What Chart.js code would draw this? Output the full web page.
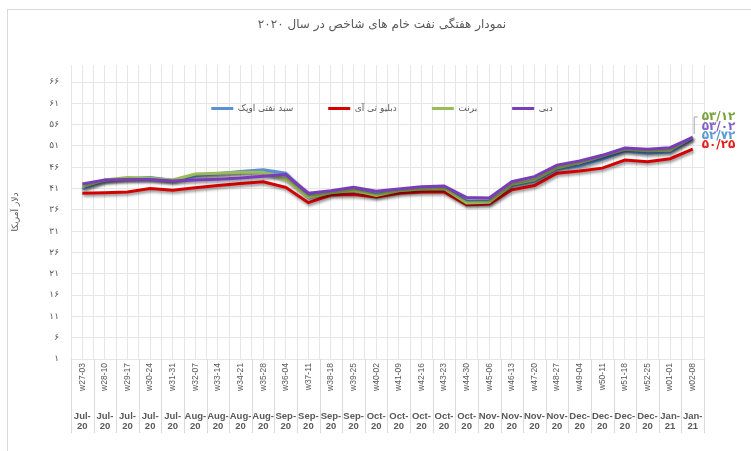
<!DOCTYPE html>
<html>
<head>
<meta charset="utf-8">
<script src="https://cdn.jsdelivr.net/npm/chart.js@4.4.1/dist/chart.umd.min.js"></script>
<style>
  html, body { margin: 0; padding: 0; background: #fff; }
  #wrap { width: 751px; height: 451px; }
</style>
</head>
<body>
<div id="wrap"><canvas id="oilChart" width="751" height="451"></canvas></div>
<script>
// داده ها
var weekLabels = ['w27-03', 'w28-10', 'w29-17', 'w30-24', 'w31-31', 'w32-07', 'w33-14', 'w34-21', 'w35-28',
    'w36-04', 'w37-11', 'w38-18', 'w39-25', 'w40-02', 'w41-09', 'w42-16', 'w43-23', 'w44-30',
    'w45-06', 'w46-13', 'w47-20', 'w48-27', 'w49-04', 'w50-11', 'w51-18', 'w52-25', 'w01-01', 'w02-08'];
var monthLabels = ['Jul-20', 'Jul-20', 'Jul-20', 'Jul-20', 'Jul-20', 'Aug-20', 'Aug-20', 'Aug-20', 'Aug-20',
    'Sep-20', 'Sep-20', 'Sep-20', 'Sep-20', 'Oct-20', 'Oct-20', 'Oct-20', 'Oct-20', 'Oct-20',
    'Nov-20', 'Nov-20', 'Nov-20', 'Nov-20', 'Dec-20', 'Dec-20', 'Dec-20', 'Dec-20', 'Jan-21', 'Jan-21'];
var yTicks = [1, 6, 11, 16, 21, 26, 31, 36, 41, 46, 51, 56, 61, 66];
var seriesNames = ['سبد نفتی اوپک', 'دبلیو تی آی', 'برنت', 'دبی'];

var opecValues = [40.9, 42.9, 43.3, 43.6, 42.9, 44.0, 44.5, 45.0, 45.4, 44.6, 39.3, 40.1, 40.8, 39.7,
    40.6, 41.0, 41.2, 38.0, 38.0, 41.7, 42.7, 45.6, 46.3, 47.9, 49.8, 49.3, 49.6, 52.72];
var wtiValues = [39.9, 40.0, 40.2, 41.0, 40.6, 41.2, 41.7, 42.2, 42.6, 41.3, 37.7, 39.5, 39.6, 39.0,
    39.9, 40.2, 40.2, 37.2, 37.4, 40.7, 41.7, 44.6, 45.1, 45.8, 47.7, 47.3, 48.0, 50.25];
var brentValues = [41.5, 43.0, 43.6, 43.4, 43.0, 44.4, 44.6, 44.8, 44.8, 43.2, 39.0, 40.0, 40.6, 39.4,
    40.5, 40.9, 41.0, 37.6, 37.8, 42.0, 43.1, 45.9, 47.1, 48.7, 50.2, 49.9, 50.0, 53.12];
var dubaiValues = [42.1, 43.0, 43.1, 43.1, 42.8, 43.0, 43.2, 43.5, 43.9, 44.3, 39.9, 40.5, 41.3, 40.4,
    40.9, 41.4, 41.6, 38.9, 38.8, 42.6, 43.8, 46.5, 47.5, 48.8, 50.5, 50.2, 50.6, 53.02];

var lineColors = ['#5b8fd6', '#d40000', '#9bbb59', '#7a3db8'];
var labelColors = ['#5b9bd5', '#e0201a', '#76a33a', '#8462c4'];
var textColor = '#595959';
var gridColor = '#e6e6e6';
var faFont = 'DejaVu Sans';

// تبدیل ارقام به فارسی
function toFa(v) {
    return String(v).replace(/[0-9]/g, function (d) { return '۰۱۲۳۴۵۶۷۸۹'[d]; });
}

function makeSet(label, values, color, order) {
    return {
        label: label,
        data: values,
        borderColor: color,
        backgroundColor: color,
        borderWidth: 3,
        pointRadius: 0,
        pointHoverRadius: 0,
        tension: 0,
        order: order
    };
}

// سایه زیر خطوط
var shadowPlugin = {
    id: 'lineShadow',
    beforeDatasetDraw: function (chart) {
        var c = chart.ctx;
        c.save();
        c.shadowColor = 'rgba(0,0,0,0.45)';
        c.shadowBlur = 3;
        c.shadowOffsetX = 1;
        c.shadowOffsetY = 2;
    },
    afterDatasetDraw: function (chart) {
        chart.ctx.restore();
    }
};

// قاب، عنوان و راهنما داخل ناحیه نمودار
var framePlugin = {
    id: 'frame',
    beforeInit: function (chart) {
        var fit = chart.legend.fit;
        chart.legend.fit = function () {
            fit.call(this);
            this.height = 0;
        };
    },
    afterLayout: function (chart) {
        var lg = chart.legend;
        lg.left += 26;
        lg.right += 26;
        lg.bottom = lg.top + 60;
        lg.height = 60;
    },
    beforeDraw: function (chart) {
        var c = chart.ctx;
        c.save();
        c.fillStyle = '#fff';
        c.fillRect(0, 0, chart.width, chart.height);
        c.strokeStyle = '#d9d9d9';
        c.lineWidth = 1;
        c.strokeRect(7.5, 9.5, chart.width + 10, chart.height + 10);
        c.fillStyle = textColor;
        c.font = '12px "' + faFont + '"';
        c.textAlign = 'center';
        c.textBaseline = 'middle';
        c.fillText('نمودار هفتگی نفت خام های شاخص در سال ۲۰۲۰', 382, 25);
        c.restore();
    },
    afterDraw: function (chart) {
        // خطوط جداکننده برچسب های محور افقی
        var c = chart.ctx, xs = chart.scales.x, x2 = chart.scales.x2;
        var step = xs.getPixelForValue(1) - xs.getPixelForValue(0);
        c.save();
        c.strokeStyle = '#dadada';
        c.lineWidth = 1;
        c.beginPath();
        for (var i = 0; i <= weekLabels.length; i++) {
            var bx = Math.round(xs.getPixelForValue(0) - step / 2 + i * step) + 0.5;
            c.moveTo(bx, chart.chartArea.bottom);
            c.lineTo(bx, x2.bottom - 2);
        }
        c.stroke();
        c.restore();
    }
};

// برچسب مقادیر آخر هفته
var endLabelPlugin = {
    id: 'endLabels',
    afterDatasetsDraw: function (chart) {
        var c = chart.ctx, xs = chart.scales.x, ys = chart.scales.y;
        var last = weekLabels.length - 1;
        var px = xs.getPixelForValue(last);
        var shift = [-2.6, -4.7, -20, -10];
        c.save();
        c.font = 'bold 12px "' + faFont + '"';
        c.textAlign = 'left';
        c.textBaseline = 'middle';
        chart.data.datasets.forEach(function (ds, i) {
            var v = ds.data[last];
            var py = ys.getPixelForValue(v);
            var ly = py + shift[i];
            if (i === 2) {
                c.strokeStyle = '#a6a6a6';
                c.lineWidth = 1;
                c.beginPath();
                c.moveTo(px + 1.5, py - 3);
                c.lineTo(px + 1.5, ly);
                c.lineTo(px + 5, ly);
                c.stroke();
            }
            c.fillStyle = labelColors[i];
            c.fillText(toFa(v.toFixed(2)).replace('.', '/'), px + 9, ly);
        });
        c.restore();
    }
};

var ctx = document.getElementById('oilChart').getContext('2d');

var oilChart = new Chart(ctx, {
    type: 'line',
    data: {
        labels: weekLabels,
        datasets: [
            makeSet(seriesNames[0], opecValues, lineColors[0], 3),
            makeSet(seriesNames[1], wtiValues, lineColors[1], 2),
            makeSet(seriesNames[2], brentValues, lineColors[2], 1),
            makeSet(seriesNames[3], dubaiValues, lineColors[3], 0)
        ]
    },
    options: {
        responsive: false,
        animation: false,
        layout: { padding: { left: 8, right: 47, top: 65, bottom: 16 } },
        plugins: {
            title: { display: false },
            tooltip: { enabled: false },
            legend: {
                position: 'top',
                align: 'center',
                title: { display: true, text: '', padding: 0, font: { size: 4, lineHeight: 1 } },
                labels: {
                    usePointStyle: true,
                    pointStyle: 'line',
                    pointStyleWidth: 22,
                    padding: 35,
                    color: textColor,
                    font: { family: faFont, size: 9 },
                    sort: function (a, b) { return a.datasetIndex - b.datasetIndex; }
                }
            }
        },
        scales: {
            x: {
                type: 'category',
                offset: true,
                grid: { offset: false, color: gridColor, drawTicks: false },
                border: { display: false },
                ticks: {
                    autoSkip: false, maxRotation: 90, minRotation: 90, padding: 4,
                    color: textColor, font: { family: 'Liberation Sans', size: 8.5 }
                },
                afterFit: function (s) { s.height = 46; }
            },
            x2: {
                type: 'category',
                position: 'bottom',
                labels: monthLabels.map(function (m) {
                    var p = m.split('-');
                    return [p[0] + '-', p[1]];
                }),
                offset: true,
                grid: { offset: true, color: gridColor, drawTicks: false },
                border: { display: false },
                ticks: {
                    autoSkip: false, maxRotation: 0, padding: 6,
                    color: textColor, font: { family: 'Liberation Sans', size: 9.5, weight: 'bold', lineHeight: 1.05 }
                },
                afterFit: function (s) { s.height = 30; }
            },
            y: {
                min: 1,
                max: 70,
                afterBuildTicks: function (s) {
                    s.ticks = yTicks.map(function (v) { return { value: v }; });
                },
                grid: { color: gridColor, drawTicks: false },
                border: { display: false },
                ticks: {
                    padding: 12, color: textColor, font: { family: faFont, size: 9 },
                    callback: function (v) { return toFa(v); }
                },
                title: {
                    display: true, text: 'دلار آمریکا', color: textColor,
                    font: { family: faFont, size: 9 }, padding: { top: 2, bottom: 0 }
                },
                afterFit: function (s) { s.width = 63; }
            }
        }
    },
    plugins: [shadowPlugin, framePlugin, endLabelPlugin]
});
</script>
</body>
</html>
